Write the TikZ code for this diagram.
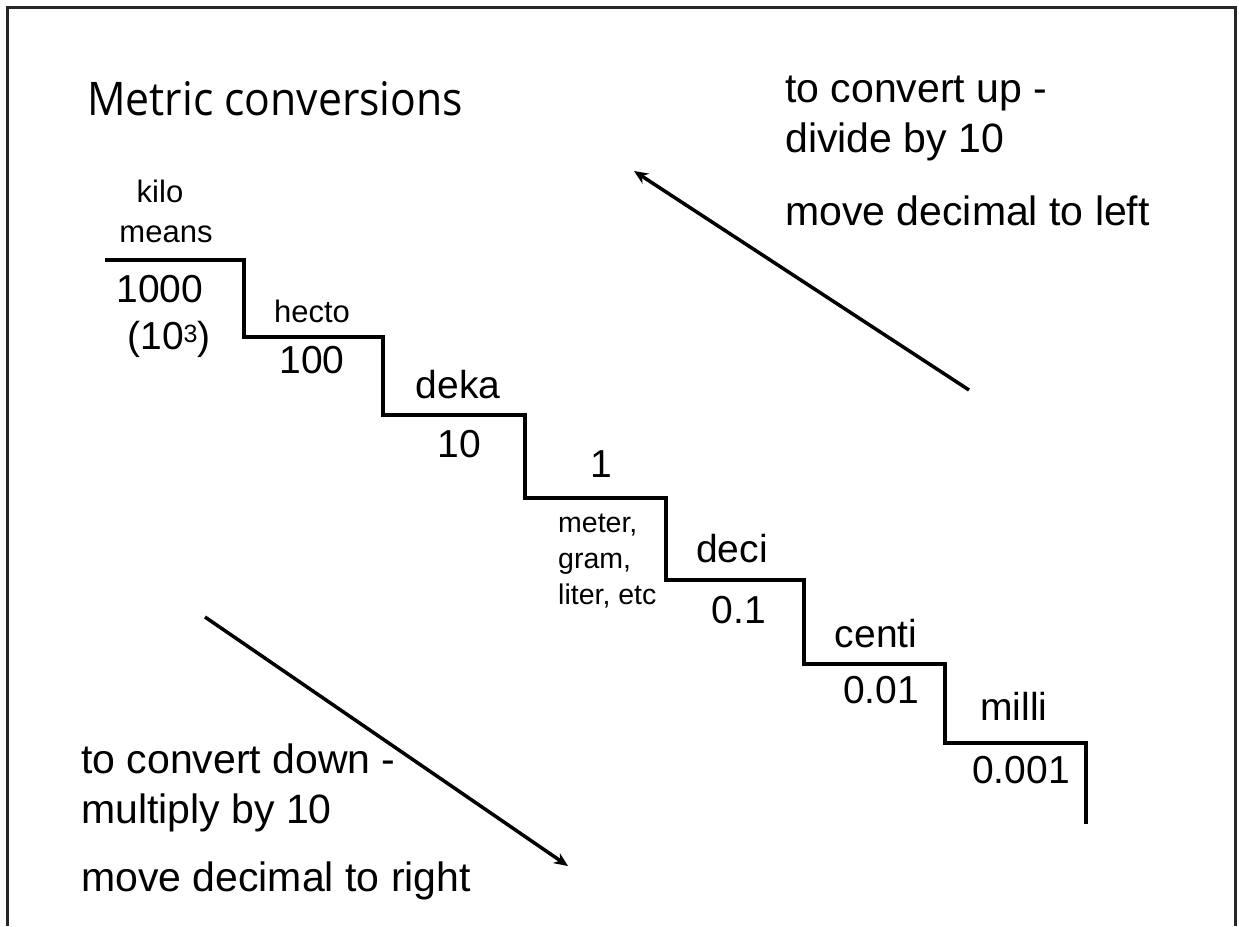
\documentclass[tikz,border=0pt]{standalone}
\usepackage{fontspec}
\setmainfont{Liberation Sans}
\newfontfamily\titlefont{Open Sans}
\usetikzlibrary{arrows.meta}
\begin{document}
\begin{tikzpicture}[x=1pt,y=-1pt,
  lbl/.style={inner sep=0pt, anchor=base},
  big/.style={lbl, font=\fontsize{39}{39}\selectfont},
  small/.style={lbl, font=\fontsize{31}{31}\selectfont},
  tiny/.style={inner sep=0pt, anchor=base west, font=\fontsize{28.5}{28.5}\selectfont},
  note/.style={inner sep=0pt, anchor=base west, font=\fontsize{41}{41}\selectfont},
  stair/.style={line width=4pt, line cap=butt, line join=miter},
  conv/.style={line width=3.5pt, -{Stealth[length=14pt,width=12pt]}},
  frame/.style={line width=3pt, draw=black!85}]
\useasboundingbox (0,0) rectangle (1239,926);
\fill[white] (0,0) rectangle (1239,926);
% frame
\coordinate (fa) at (7,926);
\coordinate (fb) at (7,7);
\coordinate (fc) at (1235,7);
\coordinate (fd) at (1235,926);
\draw[frame] (fa) -- (fb) -- (fc) -- (fd);
% title
\node[inner sep=0pt, anchor=base west] (title) at (87,115)
  {\resizebox{376pt}{34pt}{\titlefont\fontsize{38}{38}\selectfont Metric conversions}};
% staircase
\coordinate (s0) at (105,260);
\coordinate (s1) at (244,260);
\coordinate (s2) at (244,337);
\coordinate (s3) at (383,337);
\coordinate (s4) at (383,415);
\coordinate (s5) at (525,415);
\coordinate (s6) at (525,498);
\coordinate (s7) at (666,498);
\coordinate (s8) at (666,580);
\coordinate (s9) at (804,580);
\coordinate (s10) at (804,664);
\coordinate (s11) at (945,664);
\coordinate (s12) at (945,743);
\coordinate (s13) at (1086,743);
\coordinate (s14) at (1086,824);
\draw[stair] (s0) -- (s1) -- (s2) -- (s3) -- (s4) -- (s5) -- (s6) -- (s7)
  -- (s8) -- (s9) -- (s10) -- (s11) -- (s12) -- (s13) -- (s14);
% stair labels
\node[small] (kilo) at (160,202) {kilo};
\node[small] (means) at (166,242) {means};
\node[big] (k1000) at (160,302) {1000};
\node[big] (kpow) at (169,349) {(10\raisebox{7pt}{\fontsize{25}{25}\selectfont 3})};
\node[small] (hecto) at (312,322) {hecto};
\node[big] (h100) at (312,373) {100};
\node[big] (deka) at (458,398) {deka};
\node[big] (d10) at (459,457) {10};
\node[big] (one) at (601,477) {1};
\node[tiny] (meter) at (558,532) {meter,};
\node[tiny] (gram) at (558,568) {gram,};
\node[tiny] (liter) at (558,604) {liter, etc};
\node[big] (deci) at (732,562) {deci};
\node[big] (d01) at (739,623) {0.1};
\node[big] (centi) at (876,647) {centi};
\node[big] (c001) at (881,703) {0.01};
\node[big] (milli) at (1014,720) {milli};
\node[big] (m0001) at (1021,783) {0.001};
% notes
\node[note] (up1) at (785,102) {to convert up -};
\node[note] (up2) at (785,152) {divide by 10};
\node[note] (up3) at (785,225) {move decimal to left};
\node[note] (dn1) at (81,773) {to convert down -};
\node[note] (dn2) at (81,823) {multiply by 10};
\node[note] (dn3) at (81,891) {move decimal to right};
% arrows
\coordinate (ua) at (969,390);
\coordinate (ub) at (634,171);
\coordinate (da) at (205,617);
\coordinate (db) at (568,866);
\draw[conv] (ua) -- (ub);
\draw[conv] (da) -- (db);
\end{tikzpicture}
\end{document}
